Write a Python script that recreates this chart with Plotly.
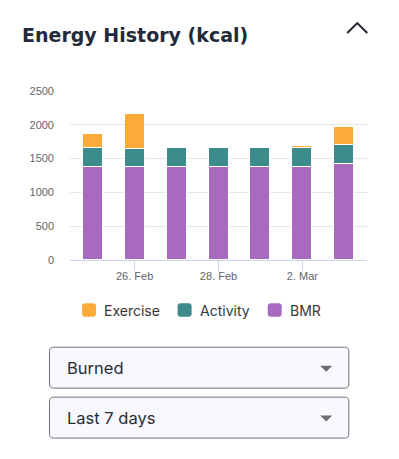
import plotly.graph_objects as go
import pandas as pd

dates = ["2023-02-25", "2023-02-26", "2023-02-27", "2023-02-28", "2023-03-01", "2023-03-02", "2023-03-03"]
bmr = [1375, 1375, 1375, 1375, 1375, 1375, 1415]
activity = [280, 268, 280, 280, 280, 280, 281]
exercise = [204, 523, 0, 0, 0, 37, 277]
series_names = ["Exercise", "Activity", "BMR"]
colors = {"Exercise": "#FDAB38", "Activity": "#3D8B8B", "BMR": "#A86ABE"}
tick_dates = ["2023-02-26", "2023-02-28", "2023-03-02"]
tick_text = ["26. Feb", "28. Feb", "2. Mar"]
ytick_vals = [0, 500, 1000, 1500, 2000, 2500]
dropdown_labels = ["Burned", "Last 7 days"]

OFF = 8  # page body margin
W, H = 399 - OFF, 459 - OFF
L, R, T, B = 70 - OFF, 32.3, 91 - OFF, 198.8
PW, PH = W - L - R, H - T - B


def px(x):
    return (x - OFF - L) / PW


def py(y):
    return (H - B - (y - OFF)) / PH


def rrect(x0, y0, x1, y1, r):
    X0, X1 = px(x0), px(x1)
    Y0, Y1 = py(y0), py(y1)
    rx, ry = r / PW, r / PH
    return (f"M{X0+rx},{Y0} L{X1-rx},{Y0} Q{X1},{Y0} {X1},{Y0-ry} "
            f"L{X1},{Y1+ry} Q{X1},{Y1} {X1-rx},{Y1} L{X0+rx},{Y1} "
            f"Q{X0},{Y1} {X0},{Y1+ry} L{X0},{Y0-ry} Q{X0},{Y0} {X0+rx},{Y0} Z")


day_ms = 86400000
fig = go.Figure()
for name, vals in [("BMR", bmr), ("Activity", activity), ("Exercise", exercise)]:
    fig.add_trace(go.Bar(
        x=dates, y=vals, name=name, width=0.477 * day_ms,
        marker=dict(color=colors[name], line=dict(color="white", width=1)),
        showlegend=False,
    ))

x0 = pd.Timestamp(dates[0]) - pd.Timedelta(hours=0.541 * 24)
x1 = pd.Timestamp(dates[-1]) + pd.Timedelta(hours=0.541 * 24)

shapes = []
annotations = []

# chevron
shapes.append(dict(type="path", xref="paper", yref="paper",
                   path=f"M{px(347)},{py(33)} L{px(357)},{py(23)} L{px(367)},{py(33)}",
                   line=dict(color="#22262e", width=2)))
annotations.append(dict(text="<b>Energy History (kcal)</b>", xref="paper", yref="paper",
                        x=px(20), y=py(35), xanchor="left", yanchor="middle", showarrow=False,
                        font=dict(family="DejaVu Sans", size=19, color="#232b3b")))

# legend
leg_x = [82, 177.5, 267.5]
for name, lx in zip(series_names, leg_x):
    shapes.append(dict(type="path", xref="paper", yref="paper",
                       path=rrect(lx, 303.5, lx + 14, 317, 3),
                       fillcolor=colors[name], line=dict(width=0)))
    annotations.append(dict(text=name, xref="paper", yref="paper",
                            x=px(lx + 20), y=py(311), xanchor="left", yanchor="middle",
                            showarrow=False,
                            font=dict(family="Inter", size=14, color="#333840")))

# dropdowns
for i, lab in enumerate(dropdown_labels):
    top = 347.5 + i * 50
    shapes.append(dict(type="path", xref="paper", yref="paper",
                       path=rrect(49.5, top, 348.5, top + 41, 4),
                       fillcolor="#F8F9FE", line=dict(color="#72727c", width=1)))
    cy = top + 21
    shapes.append(dict(type="path", xref="paper", yref="paper",
                       path=f"M{px(320)},{py(cy-2.5)} L{px(332)},{py(cy-2.5)} L{px(326)},{py(cy+3.5)} Z",
                       fillcolor="#6c6c76", line=dict(width=0)))
    annotations.append(dict(text=lab, xref="paper", yref="paper",
                            x=px(65), y=py(cy), xanchor="left", yanchor="middle",
                            showarrow=False,
                            font=dict(family="Inter", size=16.5, color="#2a2c35")))

fig.update_layout(
    width=W, height=H, barmode="stack",
    margin=dict(l=L, r=R, t=T, b=B, pad=0),
    paper_bgcolor="white", plot_bgcolor="white",
    showlegend=False, bargap=0,
    xaxis=dict(type="date", range=[x0, x1], tickvals=tick_dates, ticktext=tick_text,
               showgrid=False, showline=True, linecolor="#ccd6eb", linewidth=1,
               ticks="outside", ticklen=10, tickcolor="#ccd6eb", tickwidth=1,
               ticklabelstandoff=-4,
               tickfont=dict(family="Liberation Sans", size=11, color="#666666"),
               zeroline=False, fixedrange=True),
    yaxis=dict(range=[0, 2500], tickvals=ytick_vals, showgrid=True, gridcolor="#e6e6e6",
               gridwidth=1, zeroline=False, showline=False, ticks="", ticklabelstandoff=15,
               tickfont=dict(family="Liberation Sans", size=11, color="#666666"),
               fixedrange=True),
    shapes=shapes, annotations=annotations,
)
fig.write_html("out.html", config={"displayModeBar": False})
